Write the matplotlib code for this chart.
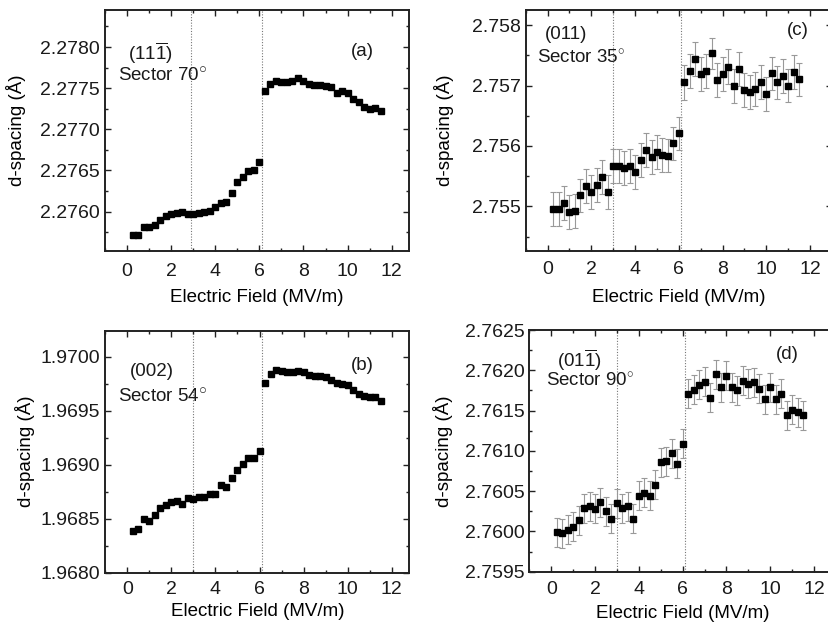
import matplotlib
matplotlib.use("Agg")
import matplotlib.pyplot as plt
from matplotlib.ticker import MultipleLocator, FormatStrFormatter

plt.rcParams['font.family'] = ['Liberation Sans', 'DejaVu Sans']
plt.rcParams['mathtext.fontset'] = 'custom'
plt.rcParams['mathtext.rm'] = 'Liberation Sans'
plt.rcParams['mathtext.it'] = 'Liberation Sans:italic'
plt.rcParams['text.color'] = '#1a1a1a'

# electric field (MV/m), same for every panel
field = [0.25, 0.5, 0.75, 1.0, 1.25, 1.5, 1.75, 2.0, 2.25, 2.5, 2.75, 3.0,
         3.25, 3.5, 3.75, 4.0, 4.25, 4.5, 4.75, 5.0, 5.25, 5.5, 5.75, 6.0,
         6.25, 6.5, 6.75, 7.0, 7.25, 7.5, 7.75, 8.0, 8.25, 8.5, 8.75, 9.0,
         9.25, 9.5, 9.75, 10.0, 10.25, 10.5, 10.75, 11.0, 11.25, 11.5]

# (a) (11-1), sector 70
d_a = [2.27572, 2.27571, 2.27581, 2.27581, 2.27584, 2.27590, 2.27595, 2.27597,
       2.27598, 2.27599, 2.27597, 2.27597, 2.27598, 2.27599, 2.27601, 2.27605,
       2.27610, 2.27612, 2.27623, 2.27636, 2.27642, 2.27649, 2.27651, 2.27660,
       2.27747, 2.27755, 2.27759, 2.27758, 2.27758, 2.27759, 2.27762, 2.27759,
       2.27755, 2.27754, 2.27754, 2.27752, 2.27751, 2.27744, 2.27747, 2.27744,
       2.27737, 2.27733, 2.27727, 2.27725, 2.27726, 2.27722]

# (b) (002), sector 54
d_b = [1.96839, 1.96840, 1.96850, 1.96848, 1.96853, 1.96860, 1.96863, 1.96865,
       1.96866, 1.96864, 1.96869, 1.96868, 1.96870, 1.96870, 1.96873, 1.96873,
       1.96881, 1.96879, 1.96888, 1.96895, 1.96901, 1.96906, 1.96906, 1.96913,
       1.96976, 1.96984, 1.96988, 1.96987, 1.96986, 1.96986, 1.96987, 1.96986,
       1.96983, 1.96982, 1.96982, 1.96981, 1.96978, 1.96976, 1.96975, 1.96974,
       1.96969, 1.96965, 1.96964, 1.96963, 1.96963, 1.96959]

# (c) (011), sector 35
d_c = [2.75495, 2.75495, 2.75505, 2.75490, 2.75492, 2.75518, 2.75534, 2.75524,
       2.75535, 2.75549, 2.75523, 2.75567, 2.75567, 2.75564, 2.75567, 2.75557,
       2.75577, 2.75593, 2.75581, 2.75590, 2.75585, 2.75584, 2.75604, 2.75621,
       2.75705, 2.75724, 2.75744, 2.75719, 2.75724, 2.75753, 2.75709, 2.75719,
       2.75731, 2.75699, 2.75727, 2.75692, 2.75689, 2.75694, 2.75706, 2.75686,
       2.75720, 2.75705, 2.75716, 2.75700, 2.75723, 2.75710]
err_c = [0.00028, 0.00028, 0.00028, 0.00028, 0.00028, 0.00028, 0.00028, 0.00028,
         0.00028, 0.00028, 0.00028, 0.00028, 0.00028, 0.00028, 0.00028, 0.00028,
         0.00028, 0.00028, 0.00028, 0.00028, 0.00028, 0.00028, 0.00028, 0.00027,
         0.00029, 0.00028, 0.00028, 0.00028, 0.00028, 0.00026, 0.00028, 0.00028,
         0.00029, 0.00028, 0.00028, 0.00028, 0.00028, 0.00028, 0.00028, 0.00028,
         0.00028, 0.00028, 0.00028, 0.00028, 0.00028, 0.00028]

# (d) (01-1), sector 90
d_d = [2.75999, 2.75998, 2.76002, 2.76006, 2.76014, 2.76029, 2.76031, 2.76028,
       2.76036, 2.76025, 2.76016, 2.76035, 2.76029, 2.76031, 2.76016, 2.76044,
       2.76048, 2.76044, 2.76058, 2.76086, 2.76087, 2.76097, 2.76084, 2.76109,
       2.76171, 2.76176, 2.76182, 2.76186, 2.76166, 2.76195, 2.76179, 2.76193,
       2.76179, 2.76175, 2.76187, 2.76183, 2.76185, 2.76177, 2.76164, 2.76179,
       2.76164, 2.76171, 2.76144, 2.76151, 2.76148, 2.76144]
err_d = [0.00018, 0.00018, 0.00018, 0.00018, 0.00018, 0.00018, 0.00018, 0.00018,
         0.00018, 0.00018, 0.00018, 0.00018, 0.00018, 0.00018, 0.00018, 0.00018,
         0.00018, 0.00018, 0.00018, 0.00018, 0.00018, 0.00018, 0.00018, 0.00018,
         0.00018, 0.00018, 0.00018, 0.00018, 0.00018, 0.00018, 0.00018, 0.00018,
         0.00018, 0.00018, 0.00018, 0.00018, 0.00018, 0.00018, 0.00018, 0.00018,
         0.00018, 0.00018, 0.00018, 0.00018, 0.00018, 0.00018]

W, H = 829, 632
fig = plt.figure(figsize=(W / 100, H / 100), dpi=100)


def px_axes(left, top, right, bottom):
    return fig.add_axes([left / W, 1 - bottom / H, (right - left) / W, (bottom - top) / H])


def style(ax, xlim, ylim, ymaj, ymin, yfmt, xpad, ylab_x, xlab_y):
    ax.set_xlim(*xlim)
    ax.set_ylim(*ylim)
    ax.xaxis.set_major_locator(MultipleLocator(2))
    ax.xaxis.set_minor_locator(MultipleLocator(1))
    ax.yaxis.set_major_locator(MultipleLocator(ymaj))
    ax.yaxis.set_minor_locator(MultipleLocator(ymin))
    ax.yaxis.set_major_formatter(FormatStrFormatter(yfmt))
    ax.tick_params(which='both', direction='in', top=True, right=True,
                   colors='#222222', labelcolor='#1a1a1a', width=1.0)
    ax.tick_params(which='major', length=4, labelsize=14)
    ax.tick_params(which='minor', length=2.2)
    ax.tick_params(axis='x', which='major', pad=xpad)
    ax.tick_params(axis='y', which='major', pad=3.5)
    for s in ax.spines.values():
        s.set_linewidth(1.4)
        s.set_color('#222222')
    ax.set_xlabel('Electric Field (MV/m)', fontsize=13.5, va='center')
    ax.set_ylabel('d-spacing (Å)', fontsize=13.5)
    ax.xaxis.set_label_coords(0.5, xlab_y)
    ax.yaxis.set_label_coords(ylab_x, 0.5)


def vlines(ax, xs):
    for x in xs:
        ax.axvline(x, color='#777777', lw=0.8, ls=(0, (1, 1.5)), zorder=1)


def notes(ax, hkl, sector, tag, p_hkl, p_sec, p_tag):
    ax.text(*p_hkl, hkl, transform=ax.transAxes, ha='center', va='center', fontsize=13.5)
    ax.text(*p_sec, sector, transform=ax.transAxes, ha='center', va='center', fontsize=13.5)
    ax.text(*p_tag, tag, transform=ax.transAxes, ha='center', va='center', fontsize=13.5)


# (a)
ax_a = px_axes(105, 10, 409.3, 251)
vlines(ax_a, [2.88, 6.12])
ax_a.plot(field, d_a, 's', color='black', ms=4.3, zorder=3)
style(ax_a, (-1, 12.8), (2.27552, 2.27845), 0.0005, 0.00025, '%.4f', 8.5, -0.258, -0.191)
notes(ax_a, r'(11$\overline{\mathrm{1}}$)', r'Sector 70$^{\bigcirc}$', '(a)',
      (0.148, 0.822), (0.19, 0.73), (0.845, 0.826))

# (b)
ax_b = px_axes(105.3, 330.7, 409.3, 572.7)
vlines(ax_b, [3.0, 6.12])
ax_b.plot(field, d_b, 's', color='black', ms=4.3, zorder=3)
style(ax_b, (-1, 12.8), (1.9680, 1.97024), 0.0005, 0.00025, '%.4f', 6.0, -0.232, -0.162)
notes(ax_b, '(002)', r'Sector 54$^{\bigcirc}$', '(b)',
      (0.154, 0.831), (0.19, 0.73), (0.845, 0.858))

# (c)
ax_c = px_axes(525.7, 10, 832, 251)
vlines(ax_c, [3.0, 6.12])
ax_c.errorbar(field, d_c, yerr=err_c, fmt='s', color='black', ms=4, ecolor='#999999',
              elinewidth=0.8, capsize=2.2, capthick=0.8, zorder=3)
style(ax_c, (-1, 13), (2.75426, 2.75825), 0.001, 0.0005, '%.3f', 7.3, -0.234, -0.191)
notes(ax_c, '(011)', r'Sector 35$^{\circ}$', '(c)',
      (0.131, 0.897), (0.18, 0.8), (0.887, 0.914))

# (d)
ax_d = px_axes(529.3, 330, 836, 571.7)
vlines(ax_d, [3.0, 6.12])
ax_d.errorbar(field, d_d, yerr=err_d, fmt='s', color='black', ms=4, ecolor='#999999',
              elinewidth=0.8, capsize=2.2, capthick=0.8, zorder=3)
style(ax_d, (-1, 13), (2.7595, 2.7625), 0.0005, 0.00025, '%.4f', 6.8, -0.25, -0.171)
notes(ax_d, r'(01$\overline{\mathrm{1}}$)', r'Sector 90$^{\circ}$', '(d)',
      (0.162, 0.876), (0.198, 0.789), (0.841, 0.897))

fig.savefig('out.png', dpi=100)
